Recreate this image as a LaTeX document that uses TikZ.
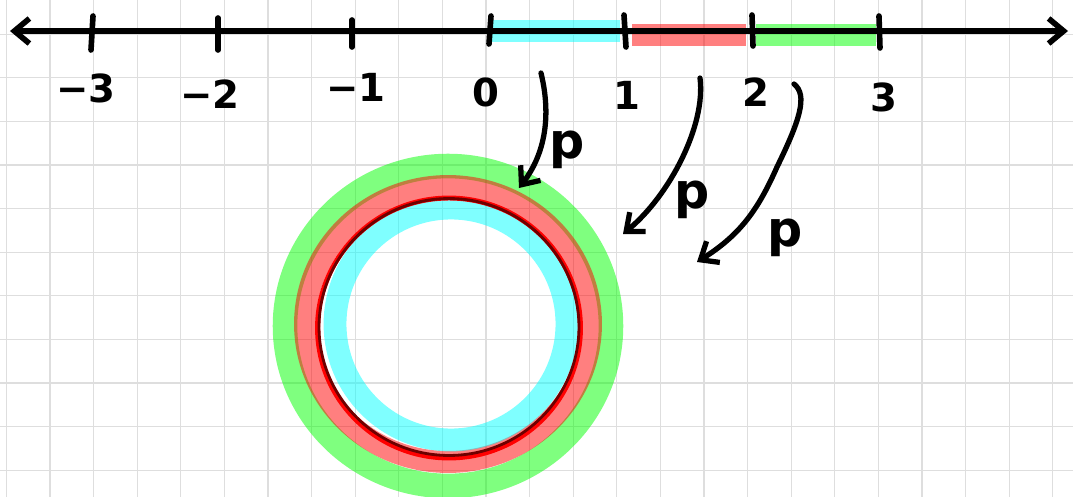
\documentclass[tikz,border=0pt]{standalone}
\usepackage{fontspec}
\setmainfont{DejaVu Sans}
\usetikzlibrary{arrows.meta}
\definecolor{gridgray}{RGB}{222,222,222}
\definecolor{darkrim}{RGB}{110,0,0}
\definecolor{cyanpen}{RGB}{0,255,255}
\definecolor{redpen}{RGB}{255,0,0}
\definecolor{greenpen}{RGB}{0,255,0}
\begin{document}
\begin{tikzpicture}[x=0.02cm, y=-0.02cm, >={Straight Barb[length=0.3cm,width=0.5cm]},
    line cap=round, line join=round,
    gridline/.style={gridgray, line width=0.7pt},
    band/.style={line width=12.5pt, opacity=0.5, line cap=butt},
    tickmark/.style={line width=3.2pt},
    numlabel/.style={font=\fontsize{22}{24}\selectfont\bfseries},
    maplabel/.style={font=\fontsize{28}{32}\selectfont\bfseries},
    maparrow/.style={->, line width=3pt}]
    % Paper
    \fill[white] (0,0) rectangle (1073,497);
    \useasboundingbox (0,0) rectangle (1073,497);
    % Grid
    \foreach \gx in {0,...,24}
        \draw[gridline] (6.4+43.6*\gx,0) -- (6.4+43.6*\gx,497);
    \foreach \gy in {0,...,10}
        \draw[gridline] (0,34.2+43.6*\gy) -- (1073,34.2+43.6*\gy);
    % Coloured pieces of the line
    \draw[band, cyanpen] (490,31) -- (620,31);
    \draw[band, redpen] (632,35) -- (746,35);
    \draw[band, greenpen] (756,35) -- (876,35);
    % Number line
    \coordinate (west) at (10,31);
    \coordinate (east) at (1068,31);
    \draw[<->, line width=3.2pt] (west) -- (east);
    % Ticks
    \draw[tickmark] (93,16) -- (91,50);
    \draw[tickmark] (218,18) -- (218,50);
    \draw[tickmark] (352,20) -- (352,47);
    \draw[tickmark] (491,16) -- (489,44);
    \draw[tickmark] (624,15) -- (626,47);
    \draw[tickmark] (752,15) -- (753,46);
    \draw[tickmark] (879,16) -- (880,48);
    % Labels
    \node[numlabel] (m3) at (86,88) {−3};
    \node[numlabel] (m2) at (210,94) {−2};
    \node[numlabel] (m1) at (356,87) {−1};
    \node[numlabel] (n0) at (486,92) {0};
    \node[numlabel] (n1) at (627,95) {1};
    \node[numlabel] (n2) at (756,92) {2};
    \node[numlabel] (n3) at (884,97) {3};
    % Circles
    \draw[greenpen, opacity=0.5, line width=14pt] (448,326) ellipse [x radius=3.26cm, y radius=3.2cm];
    \draw[redpen, opacity=0.5, line width=12.5pt] (448,324) ellipse [x radius=2.86cm, y radius=2.76cm];
    \draw[cyanpen, opacity=0.5, line width=13pt] (451,324) circle [radius=2.32cm];
    \draw[redpen, line width=2.8pt] (449,328) ellipse [x radius=2.63cm, y radius=2.6cm];
    \draw[darkrim, line width=1.6pt] (449,327) ellipse [x radius=2.6cm, y radius=2.57cm];
    % Maps onto the circle
    \coordinate (s1) at (541,73);
    \coordinate (e1) at (519,188);
    \draw[maparrow] (s1) .. controls (550,110) and (548,150) .. (e1);
    \node[maplabel] (p1) at (567,150) {p};
    \coordinate (s2) at (700,78);
    \coordinate (e2) at (623,234);
    \draw[maparrow] (s2) .. controls (706,125) and (670,195) .. (e2);
    \node[maplabel] (p2) at (692,200) {p};
    \coordinate (s3) at (794,84);
    \coordinate (e3) at (697,262);
    \draw[maparrow] (s3) .. controls (808,95) and (800,120) .. (777,167) .. controls (758,210) and (740,235) .. (e3);
    \node[maplabel] (p3) at (785,238) {p};
\end{tikzpicture}
\end{document}
